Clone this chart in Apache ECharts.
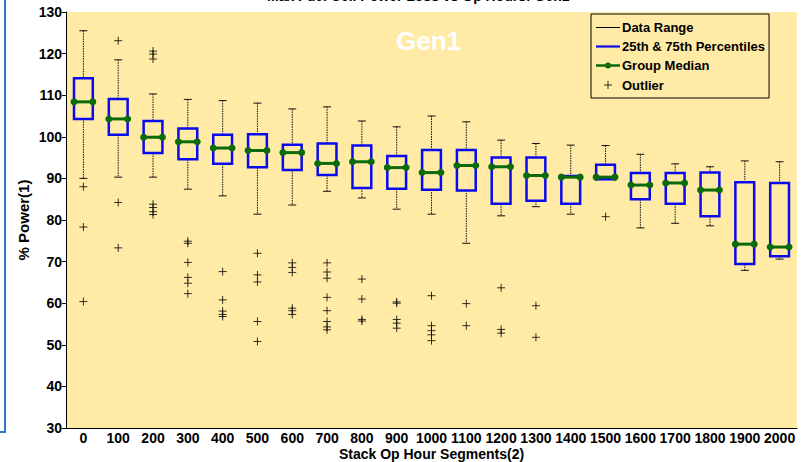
<!DOCTYPE html>
<html>
<head>
<meta charset="utf-8">
<script src="https://cdn.jsdelivr.net/npm/echarts@6/dist/echarts.min.js"></script>
<style>
  html, body { margin: 0; padding: 0; background: #fff; }
  #chart { width: 804px; height: 462px; }
</style>
</head>
<body>
<div id="chart"></div>
<script>
// stack op hour segments
const categories = ['0', '100', '200', '300', '400', '500', '600', '700', '800', '900', '1000',
  '1100', '1200', '1300', '1400', '1500', '1600', '1700', '1800', '1900', '2000'];

// data range ends (whiskers)
const rangeHigh = [125.5, 118.5, 110.3, 109.0, 108.7, 108.1, 106.7, 107.2, 103.8, 102.4, 105.0,
  103.6, 99.2, 98.4, 98.0, 97.9, 95.8, 93.5, 92.8, 94.2, 94.0];
const rangeLow = [90.0, 90.3, 90.3, 87.4, 85.8, 81.4, 83.6, 86.9, 85.3, 82.6, 81.4,
  74.4, 81.0, 83.2, 81.4, 89.8, 78.1, 79.2, 78.6, 67.9, 70.6];

// 25th & 75th percentiles
const p75 = [114.1, 109.1, 103.8, 102.0, 100.5, 100.6, 98.1, 98.4, 97.9, 95.4, 96.8,
  96.8, 95.0, 95.0, 90.6, 93.3, 91.3, 91.3, 91.4, 89.1, 88.9];
const p25 = [104.3, 100.5, 96.1, 94.6, 93.5, 92.7, 92.0, 90.8, 87.7, 87.5, 87.3,
  87.1, 83.9, 84.6, 83.9, 89.8, 85.0, 83.9, 80.9, 69.4, 71.3];

// group median
const medians = [108.4, 104.3, 99.9, 98.8, 97.3, 96.7, 96.2, 93.6, 94.0, 92.6, 91.4,
  93.1, 92.8, 90.7, 90.3, 90.3, 88.4, 88.9, 87.2, 74.2, 73.5];

// outliers per segment
const outliers = [
  [88.0, 78.3, 60.4],
  [123.1, 84.2, 73.3],
  [120.6, 119.9, 118.7, 83.8, 83.0, 82.0, 81.3],
  [74.9, 74.4, 69.8, 66.2, 64.8, 62.3],
  [67.6, 60.8, 58.1, 57.3, 56.8],
  [72.0, 66.8, 65.1, 55.6, 50.8],
  [69.7, 68.6, 67.4, 58.8, 58.2, 57.3],
  [69.7, 67.5, 66.0, 61.4, 58.2, 55.6, 54.3, 53.6],
  [65.8, 61.0, 56.1, 55.7],
  [60.3, 60.0, 56.1, 55.2, 54.0],
  [61.8, 54.6, 53.4, 52.4, 51.0],
  [59.9, 54.6],
  [63.7, 53.7, 52.8],
  [59.4, 51.8],
  [],
  [80.8],
  [], [], [], [], []
];

const FONT = 'Liberation Sans';
const boxData = categories.map((c, i) => [i, rangeLow[i], p25[i], medians[i], p75[i], rangeHigh[i]]);
const outlierData = [];
outliers.forEach((list, i) => list.forEach(v => outlierData.push([i, v])));

const chart = echarts.init(document.getElementById('chart'), null, { renderer: 'svg' });

const halfBox = api => api.size([1, 0])[0] * 0.27;

const renderRange = (params, api) => {
  const i = api.value(0);
  const low = api.coord([i, api.value(1)]);
  const q1 = api.coord([i, api.value(2)]);
  const q3 = api.coord([i, api.value(4)]);
  const high = api.coord([i, api.value(5)]);
  const x = low[0];
  const cap = 4;
  const dotted = { stroke: '#111', lineWidth: 1, lineDash: [1.5, 1] };
  const solid = { stroke: '#111', lineWidth: 1 };
  const children = [
    { type: 'line', shape: { x1: x, y1: high[1], x2: x, y2: q3[1] }, style: dotted },
    { type: 'line', shape: { x1: x - cap, y1: high[1], x2: x + cap, y2: high[1] }, style: solid }
  ];
  if (low[1] - q1[1] > 1) {
    children.push({ type: 'line', shape: { x1: x, y1: q1[1], x2: x, y2: low[1] }, style: dotted });
    children.push({ type: 'line', shape: { x1: x - cap, y1: low[1], x2: x + cap, y2: low[1] }, style: solid });
  }
  return { type: 'group', children };
};

const renderBox = (params, api) => {
  const i = api.value(0);
  const q1 = api.coord([i, api.value(2)]);
  const q3 = api.coord([i, api.value(4)]);
  const hw = halfBox(api);
  return {
    type: 'rect',
    shape: { x: q3[0] - hw, y: q3[1], width: hw * 2, height: q1[1] - q3[1] },
    style: { fill: 'none', stroke: '#0a0aee', lineWidth: 2.5 }
  };
};

const renderMedian = (params, api) => {
  const i = api.value(0);
  const m = api.coord([i, api.value(3)]);
  const hw = halfBox(api);
  const green = '#0b6a0b';
  return {
    type: 'group',
    children: [
      { type: 'line', shape: { x1: m[0] - hw, y1: m[1], x2: m[0] + hw, y2: m[1] }, style: { stroke: green, lineWidth: 3 } },
      { type: 'circle', shape: { cx: m[0] - hw, cy: m[1], r: 3.5 }, style: { fill: green } },
      { type: 'circle', shape: { cx: m[0] + hw, cy: m[1], r: 3.5 }, style: { fill: green } }
    ]
  };
};

const option = {
  backgroundColor: '#fff',
  animation: false,
  textStyle: { fontFamily: FONT },
  title: [{
    text: 'Max Fuel Cell Power Loss vs Op Hours: Gen1',
    left: 262,
    top: -16.5,
    textStyle: { fontFamily: FONT, fontSize: 14, fontWeight: 'bold', color: '#000' }
  }, {
    text: 'Gen1',
    left: 396,
    top: 28,
    padding: 0,
    textStyle: { fontFamily: FONT, fontSize: 26, fontWeight: 'bold', color: '#fff' }
  }],
  legend: {
    orient: 'vertical',
    left: 591,
    top: 14,
    padding: [7, 4, 6, 5],
    itemWidth: 24,
    itemHeight: 14,
    itemGap: 6,
    backgroundColor: '#ffeaa6',
    borderColor: '#000',
    borderWidth: 1,
    selectedMode: false,
    textStyle: { fontFamily: FONT, fontSize: 13, fontWeight: 'bold', color: '#000', padding: [0, 0, 0, -3] },
    data: [
      { name: 'Data Range', icon: 'path://M0,0h24v1H0z', itemStyle: { color: '#000' } },
      { name: '25th & 75th Percentiles', icon: 'path://M0,0h24v2.2H0z', itemStyle: { color: '#0a0aee' } },
      { name: 'Group Median', icon: 'path://M0,2h24v2.5H0zM9,3.25a3,3 0 1,1 6,0a3,3 0 1,1 -6,0z', itemStyle: { color: '#0b6a0b' } },
      { name: 'Outlier', icon: 'path://M0,0M24,14M8,6.5h8v1h-8zM11.5,3h1v8h-1z', itemStyle: { color: '#000', borderWidth: 0 } }
    ]
  },
  grid: {
    left: 66, right: 7, top: 12, bottom: 34,
    outerBoundsMode: 'none',
    containLabel: false,
    show: true, backgroundColor: '#ffeaa6', borderWidth: 0
  },
  graphic: [{
    type: 'polyline',
    shape: { points: [[5, 0], [5, 432], [0, 432]] },
    style: { stroke: '#2f74c6', lineWidth: 2, fill: 'none' },
    silent: true
  }],
  xAxis: {
    type: 'category',
    data: categories,
    boundaryGap: true,
    name: 'Stack Op Hour Segments(2)',
    nameLocation: 'middle',
    nameGap: 18.5,
    nameMoveOverlap: false,
    nameTextStyle: { fontFamily: FONT, fontSize: 14, fontWeight: 'bold', color: '#000' },
    axisLine: { lineStyle: { color: '#000', width: 1 } },
    axisTick: { inside: true, alignWithLabel: true, length: 5, lineStyle: { color: '#000' } },
    axisLabel: { interval: 0, margin: 3, fontFamily: FONT, fontSize: 14, fontWeight: 'bold', color: '#000' },
    splitLine: { show: false }
  },
  yAxis: {
    type: 'value',
    min: 30,
    max: 130,
    interval: 10,
    name: '% Power(1)',
    nameLocation: 'middle',
    nameRotate: 90,
    nameGap: 35,
    nameMoveOverlap: false,
    nameTextStyle: { fontFamily: FONT, fontSize: 15, fontWeight: 'bold', color: '#000' },
    axisLine: { show: true, lineStyle: { color: '#000', width: 1 } },
    axisTick: { show: true, inside: false, length: 4, lineStyle: { color: '#000' } },
    axisLabel: { margin: 4, fontFamily: FONT, fontSize: 14, fontWeight: 'bold', color: '#000' },
    splitLine: { show: false }
  },
  series: [{
    name: 'Data Range',
    type: 'custom',
    silent: true,
    itemStyle: { color: '#000' },
    renderItem: renderRange,
    encode: { x: 0, y: [1, 2, 3, 4, 5] },
    data: boxData
  }, {
    name: '25th & 75th Percentiles',
    type: 'custom',
    silent: true,
    itemStyle: { color: '#0a0aee' },
    renderItem: renderBox,
    encode: { x: 0, y: [1, 2, 3, 4, 5] },
    data: boxData
  }, {
    name: 'Group Median',
    type: 'custom',
    silent: true,
    itemStyle: { color: '#0b6a0b' },
    renderItem: renderMedian,
    encode: { x: 0, y: [1, 2, 3, 4, 5] },
    data: boxData
  }, {
    name: 'Outlier',
    type: 'scatter',
    silent: true,
    symbol: 'path://M0,4H8M4,0V8',
    symbolSize: 8,
    itemStyle: { color: 'rgba(0,0,0,0)', borderColor: '#000', borderWidth: 1 },
    data: outlierData
  }]
};

chart.setOption(option);
</script>
</body>
</html>
